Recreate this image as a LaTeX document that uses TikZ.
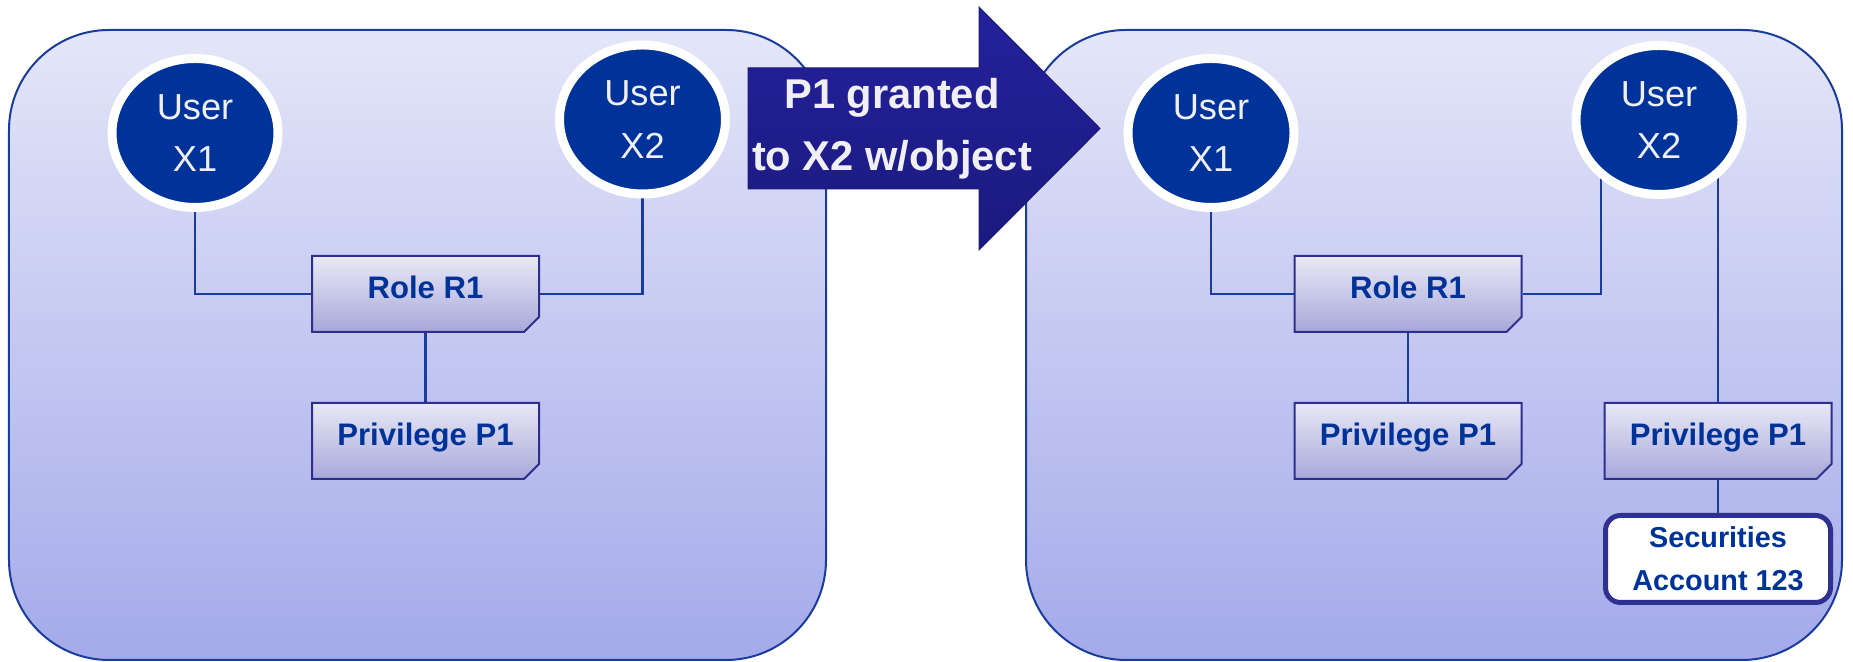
\documentclass[tikz,border=0pt]{standalone}
\usepackage{fontspec}
\setmainfont{Liberation Sans}
\usetikzlibrary{shapes.geometric,shapes.misc,calc}

\definecolor{panelline}{HTML}{1A3C9C}
\definecolor{paneltop}{HTML}{E4E6F8}
\definecolor{panelbot}{HTML}{A4AAEA}
\definecolor{userblue}{HTML}{003399}
\definecolor{notetop}{HTML}{E8E8F6}
\definecolor{notebot}{HTML}{A8A8DA}
\definecolor{noteline}{HTML}{2E2E8E}
\definecolor{foldgray}{HTML}{A0A0C8}
\definecolor{arrowtop}{HTML}{24219C}
\definecolor{arrowbot}{HTML}{1B1A7E}
\definecolor{acctline}{HTML}{2E3192}
\definecolor{textblue}{HTML}{003399}
\definecolor{offwhite}{HTML}{F0F0F4}

\pgfdeclarelayer{panels}
\pgfdeclarelayer{links}
\pgfsetlayers{panels,links,main}

\tikzset{
  panel/.style={rounded corners=1cm, draw=panelline, line width=0.02cm,
    top color=paneltop, bottom color=panelbot},
  user/.style={ellipse, fill=userblue, draw=white, line width=0.09cm,
    minimum width=1.66cm, minimum height=1.49cm, inner sep=0pt,
    text=offwhite, align=center, font=\fontsize{10.3}{15}\selectfont},
  note/.style={chamfered rectangle, chamfered rectangle corners=south east,
    chamfered rectangle sep=0.075cm, draw=noteline, line width=0.02cm,
    top color=notetop, bottom color=notebot,
    minimum width=2.27cm, minimum height=0.76cm, inner sep=0pt,
    text=textblue, font=\bfseries\fontsize{8.85}{10}\selectfont,
    text height=0.22cm, text depth=0.12cm,
    append after command={
      \pgfextra{\let\notename\tikzlastnode}
      [fill=foldgray, draw=noteline, line width=0.01cm]
      ([xshift=-0.14cm]\notename.south east)
        -- ([xshift=-0.10cm, yshift=0.10cm]\notename.south east)
        -- ([yshift=0.13cm]\notename.south east) -- cycle
    }},
  acct/.style={rectangle, rounded corners=0.15cm, draw=acctline, line width=0.05cm,
    fill=white, minimum width=2.25cm, minimum height=0.87cm, inner sep=0pt,
    align=center, text=textblue, font=\bfseries\fontsize{8.2}{12.2}\selectfont},
  link/.style={draw=panelline, line width=0.7pt},
  grantarrow/.style={top color=arrowtop, bottom color=arrowbot, draw=arrowbot, line width=0.01cm},
  granttext/.style={align=center, text=offwhite, inner sep=0pt,
    font=\bfseries\fontsize{11.85}{17.6}\selectfont}
}

\begin{document}
\begin{tikzpicture}

    \useasboundingbox (0,0) rectangle (18.53,6.62);

    % Панели
    \begin{pgfonlayer}{panels}
    \draw[panel] (0.09,0.02) rectangle (8.26,6.32);
    \draw[panel] (10.26,0.02) rectangle (18.42,6.32);
    \end{pgfonlayer}

    % Стрелка
    \draw[grantarrow] (7.48,5.94) -- (9.79,5.94) -- (9.79,6.55) -- (11.00,5.335)
        -- (9.79,4.12) -- (9.79,4.73) -- (7.48,4.73) -- cycle;
    \node[granttext] (grant) at (8.92,5.33) {P1 granted\\to X2 w/object};

    % До
    \node[user] (x1l) at (1.95,5.29) {User\\X1};
    \node[user] (x2l) at (6.425,5.425) {User\\X2};
    \node[note] (rolel) at (4.255,3.68) {Role R1};
    \node[note] (privl) at (4.255,2.21) {Privilege P1};

    % После
    \node[user] (x1r) at (12.11,5.29) {User\\X1};
    \node[user] (x2r) at (16.59,5.42) {User\\X2};
    \node[note] (roler) at (14.08,3.68) {Role R1};
    \node[note] (privr) at (14.08,2.21) {Privilege P1};
    \node[note] (privx) at (17.18,2.21) {Privilege P1};
    \node[acct] (acct) at (17.18,1.03) {Securities\\Account 123};

    % Связи
    \begin{pgfonlayer}{links}
    \draw[link] (x1l.south) |- (rolel.west);
    \draw[link] (x2l.south) |- (rolel.east);
    \draw[link] (rolel.south) -- (privl.north);
    \draw[link] (x1r.south) |- (roler.west);
    \draw[link] (roler.east) -| ($(x2r.center)+(-0.58,0)$);
    \draw[link] (roler.south) -- (privr.north);
    \draw[link] (privx.north) -- (privx.north |- x2r.center);
    \draw[link] (privx.south) -- (acct.north);
    \end{pgfonlayer}

\end{tikzpicture}
\end{document}
